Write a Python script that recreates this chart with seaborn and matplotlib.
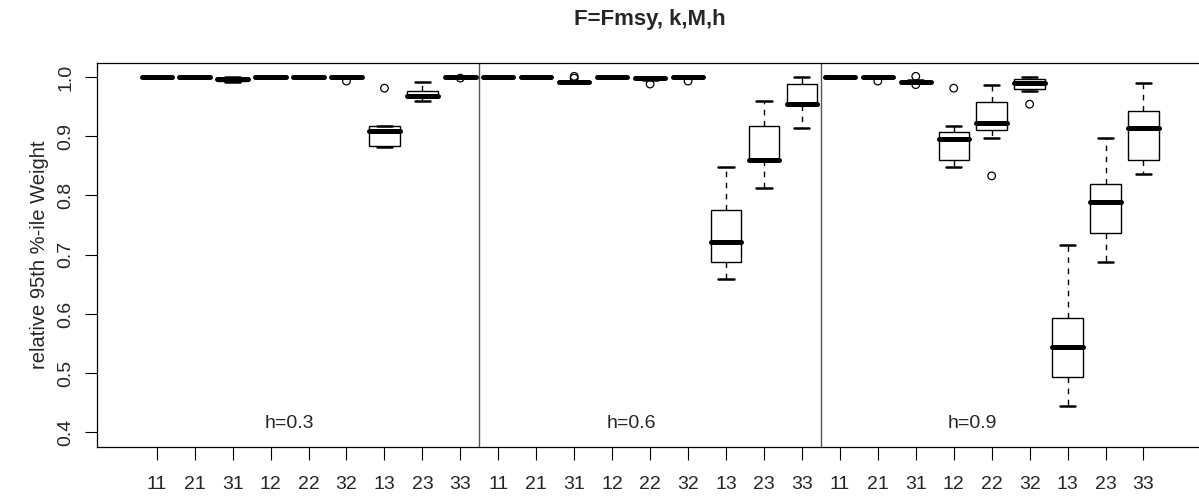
import numpy as np
import pandas as pd
import matplotlib
matplotlib.use("Agg")
import matplotlib.pyplot as plt
import seaborn as sns

# Scenario codes (k index, M index) repeated for each steepness level
scenario_labels = ["11", "21", "31", "12", "22", "32", "13", "23", "33"]
h_labels = ["h=0.3", "h=0.6", "h=0.9"]

# Five-number summaries per box (h=0.3 block, h=0.6 block, h=0.9 block)
whisker_lo = [1.000, 1.000, 0.992, 1.000, 1.000, 1.000, 0.882, 0.960, 1.000,
              1.000, 1.000, 0.989, 1.000, 0.995, 1.000, 0.659, 0.813, 0.914,
              1.000, 1.000, 0.990, 0.848, 0.897, 0.977, 0.444, 0.688, 0.836]
q1 = [1.000, 1.000, 0.993, 1.000, 1.000, 1.000, 0.884, 0.966, 1.000,
      1.000, 1.000, 0.990, 1.000, 0.996, 1.000, 0.687, 0.859, 0.953,
      1.000, 1.000, 0.991, 0.860, 0.910, 0.980, 0.494, 0.737, 0.860]
median = [1.000, 1.000, 0.996, 1.000, 1.000, 1.000, 0.908, 0.968, 1.000,
          1.000, 1.000, 0.991, 1.000, 0.999, 1.000, 0.721, 0.860, 0.954,
          1.000, 1.000, 0.992, 0.895, 0.922, 0.989, 0.544, 0.789, 0.914]
q3 = [1.000, 1.000, 0.998, 1.000, 1.000, 1.000, 0.918, 0.977, 1.000,
      1.000, 1.000, 0.992, 1.000, 1.000, 1.000, 0.775, 0.918, 0.988,
      1.000, 1.000, 0.993, 0.907, 0.957, 0.997, 0.593, 0.819, 0.942]
whisker_hi = [1.000, 1.000, 1.000, 1.000, 1.000, 1.000, 0.918, 0.991, 1.000,
              1.000, 1.000, 0.993, 1.000, 1.000, 1.000, 0.848, 0.960, 1.000,
              1.000, 1.000, 0.994, 0.918, 0.987, 1.000, 0.716, 0.897, 0.989]

# Outlying runs: (box number, value)
outlier_pos = [6, 7, 9, 12, 12, 14, 15, 20, 21, 21, 22, 23, 24]
outlier_val = [0.993, 0.981, 0.998, 1.001, 0.998, 0.988, 0.993,
               0.993, 1.001, 0.987, 0.981, 0.833, 0.954]

sns.set_style("ticks")
plt.rcParams["font.family"] = ["Liberation Sans", "DejaVu Sans"]

positions = np.arange(1, len(median) + 1)
rows = []
for p, lo, a, m, b, hi in zip(positions, whisker_lo, q1, median, q3, whisker_hi):
    for v in (lo, a, m, b, hi):
        rows.append((p, v))
df = pd.DataFrame(rows, columns=["pos", "value"])

fig = plt.figure(figsize=(11.99, 4.97), dpi=100)
ax = fig.add_axes([0.0807, 0.1012, 0.9230, 0.7726])

sns.boxplot(data=df, x="pos", y="value", native_scale=True, whis=(0, 100),
            width=0.8, color="white", linecolor="black", linewidth=1.0,
            showfliers=False,
            medianprops=dict(linewidth=3.6, color="black", solid_capstyle="round"),
            whiskerprops=dict(linestyle=(0, (4, 4)), linewidth=1.0),
            capprops=dict(linewidth=1.8),
            ax=ax)

ax.scatter(outlier_pos, outlier_val, s=30, facecolors="none",
           edgecolors="black", linewidths=0.9, zorder=5)

# Block separators and steepness labels
for xv in (9.5, 18.5):
    ax.axvline(xv, color="#555555", linewidth=1.0)
for xv, lab in zip((4.5, 13.5, 22.5), h_labels):
    ax.text(xv, 0.415, lab, ha="center", va="center", fontsize=14)

ax.set_xlim(-0.58, 28.58)
ax.set_ylim(0.376, 1.024)
ax.set_xticks(positions)
ax.set_xticklabels(scenario_labels * len(h_labels))
yt = [0.4, 0.5, 0.6, 0.7, 0.8, 0.9, 1.0]
ax.set_yticks(yt)
ax.set_yticklabels([f"{v:.1f}" for v in yt], rotation=90, va="center")
ax.set_xlabel("")
ax.set_ylabel("")
ax.tick_params(axis="both", length=9, width=0.8, direction="out",
               labelsize=14, color="black")
ax.tick_params(axis="x", pad=12)
ax.tick_params(axis="y", pad=7)
for s in ax.spines.values():
    s.set_linewidth(0.9)
    s.set_color("black")

fig.text(40 / 1199, 0.4875, "relative 95th %-ile Weight", rotation=90,
         ha="center", va="center", fontsize=14.5)
fig.text(650 / 1199, 1 - 19 / 497, "F=Fmsy, k,M,h", ha="center", va="center",
         fontsize=16, fontweight="bold")

fig.savefig("out.png", dpi=100)
